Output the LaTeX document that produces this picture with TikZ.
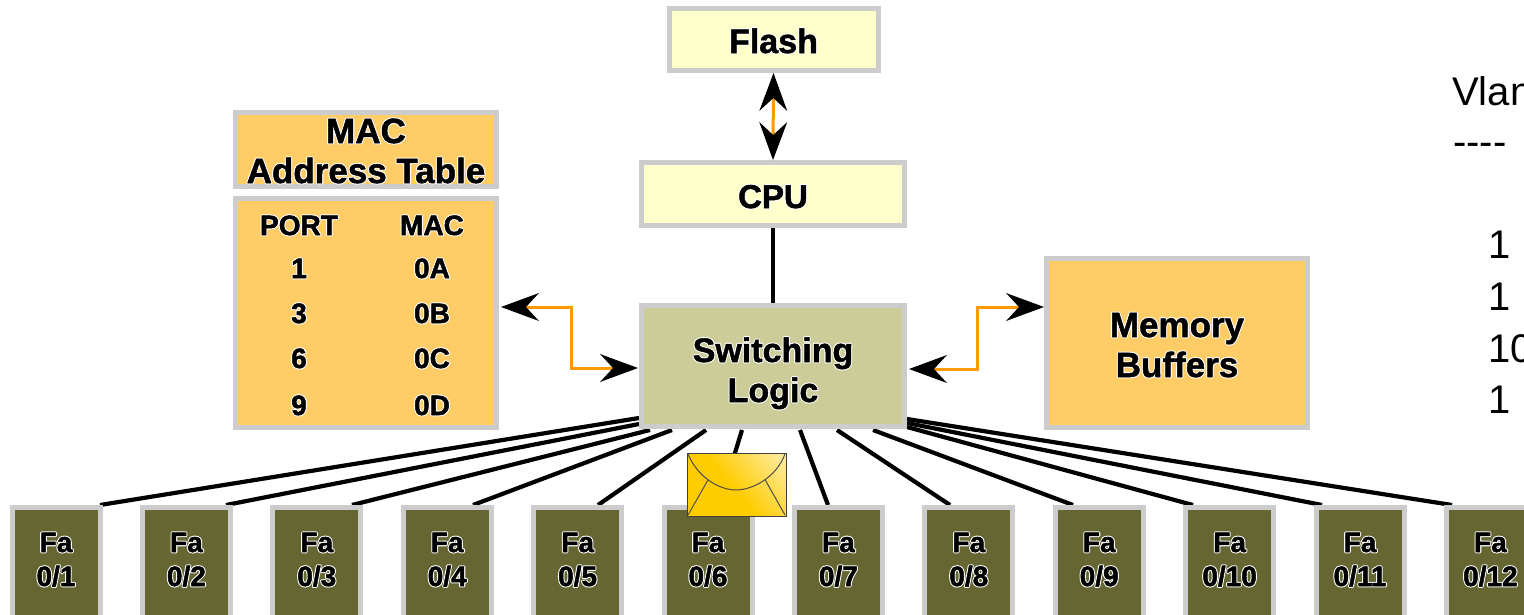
\documentclass[tikz,border=0pt]{standalone}
\usepackage{fontspec}
\setmainfont{Liberation Sans}
\usetikzlibrary{arrows.meta,calc,backgrounds}
\definecolor{palebox}{HTML}{FFFFCC}
\definecolor{edgegray}{HTML}{CCCCCC}
\definecolor{tablefill}{HTML}{FFCC66}
\definecolor{logicfill}{HTML}{CCCC99}
\definecolor{portfill}{HTML}{666633}
\definecolor{linkorange}{HTML}{FF9900}
\definecolor{envgold}{HTML}{FFCC00}
\definecolor{envpale}{HTML}{FFF8E0}
\pgfdeclarehorizontalshading{envshade}{100bp}{color(0bp)=(envgold); color(47bp)=(envgold); color(97bp)=(envpale); color(100bp)=(envpale)}
\newcommand\halotext[1]{\rlap{\special{pdf:code 1 1 1 RG 1 j 2.6 w 2 Tr}#1\special{pdf:code 0 0 0 RG 0.5 w}}#1\special{pdf:code 0 Tr 0 j}}
% place text: horizontal offset, baseline below the node centre, text
\newcommand\placed[3]{\makebox[0pt][c]{\kern #1\relax\kern #1\relax\raisebox{-#2}[0pt][0pt]{\halotext{#3}}}}
\newcommand\fsz[1]{\fontsize{#1}{#1}\selectfont\bfseries}
\tikzset{
  boxbase/.style={draw=edgegray,line width=5pt,inner sep=0pt,minimum width=#1},
  wire/.style={line width=4.2pt,black},
  link/.style={line width=3pt,linkorange,{Stealth[length=38pt,width=28pt,inset=13pt,color=black,fill=black,line width=0pt]}-{Stealth[length=38pt,width=28pt,inset=13pt,color=black,fill=black,line width=0pt]}},
  vlantext/.style={anchor=base west,inner sep=0pt,font=\fontsize{40}{40}\selectfont}
}
\begin{document}
\begin{tikzpicture}[x=1pt,y=-1pt]
\useasboundingbox (0,0) rectangle (1524,614);
\node[boxbase=209pt,fill=palebox,minimum height=62pt] (flash) at (773.5,39.5) {\fsz{34}\placed{0pt}{13.5pt}{Flash}};
\node[boxbase=263pt,fill=palebox,minimum height=63pt] (cpu) at (773,194) {\fsz{33}\placed{0pt}{14pt}{CPU}};
\node[boxbase=263pt,fill=logicfill,minimum height=121pt] (sw) at (773,366) {\fsz{34}\placed{0pt}{-4pt}{Switching}\placed{0pt}{36pt}{Logic}};
\node[boxbase=261pt,fill=tablefill,minimum height=74pt] (mac) at (366,149.5) {\fsz{35}\placed{0pt}{-6.5pt}{MAC}\placed{0pt}{33.5pt}{Address Table}};
\node[boxbase=261pt,fill=tablefill,minimum height=229pt] (tbl) at (366,313) {\fsz{28}%
  \placed{-67pt}{-78pt}{PORT}\placed{66pt}{-78pt}{MAC}%
  \placed{-67pt}{-35pt}{1}\placed{66pt}{-35pt}{0A}%
  \placed{-67pt}{10pt}{3}\placed{66pt}{10pt}{0B}%
  \placed{-67pt}{55pt}{6}\placed{66pt}{55pt}{0C}%
  \placed{-67pt}{102pt}{9}\placed{66pt}{102pt}{0D}};
\node[boxbase=261pt,fill=tablefill,minimum height=169pt] (mem) at (1177,343) {\fsz{35}\placed{0pt}{-6pt}{Memory}\placed{0pt}{34pt}{Buffers}};
\foreach \i in {1,...,12}{
  \pgfmathsetmacro\cx{56+130.4*(\i-1)}
  \node[boxbase=88pt,fill=portfill,minimum height=120pt] (fa\i) at (\cx,567.5) {\fsz{28}\placed{0pt}{-15.5pt}{Fa}\placed{0pt}{18.5pt}{0/\i}};
}
\begin{scope}[on background layer]
  \draw[line width=3.5pt,black] (cpu) -- (sw);
  \foreach \i/\sx/\sy/\ex in {1/639/418/100,2/639/424/226,3/650/430/352,4/672/430/473,5/706/430/598,6/742/430/719,7/800/430/828,8/837/430/950,9/873/430/1073,10/907/427/1193,11/907/423/1322,12/907/419/1452}{
    \pgfmathsetmacro\dxa{\sx-773}
    \pgfmathsetmacro\dya{\sy-429}
    \pgfmathsetmacro\dxb{\ex-(56+130.4*(\i-1))}
    \draw[wire] ($(sw.south)+(\dxa,\dya)$) -- ($(fa\i.north)+(\dxb,0)$);
  }
\end{scope}
\draw[link] (flash.south) -- (cpu.north);
\draw[link] ($(tbl.east)+(2,-6)$) -- ++(70,0) |- ($(sw.west)+(-1,2)$);
\draw[link] ($(mem.west)+(0,-36)$) -- ++(-67,0) |- ($(sw.east)+(2,3)$);
% envelope
\draw[draw=black!75,line width=1pt,shading=envshade,shading angle=40] (687,453) rectangle (786,516);
\draw[black!70,line width=1pt] (688,454) .. controls (698,478) and (720,490) .. (736,490) .. controls (752,490) and (776,478) .. (785,454);
\draw[black!70,line width=1pt] (688,515) -- (708,480);
\draw[black!70,line width=1pt] (785,515) -- (765,479.5);
% right-hand text
\node[vlantext] (vlan) at (1452,105) {Vlan};
\node[vlantext] (dash) at (1453,155) {-{}-{}-{}-};
\node[vlantext] (va) at (1488,258) {1};
\node[vlantext] (vb) at (1488,310) {1};
\node[vlantext] (vc) at (1488,362) {10};
\node[vlantext] (vd) at (1488,413) {1};
\end{tikzpicture}
\end{document}
